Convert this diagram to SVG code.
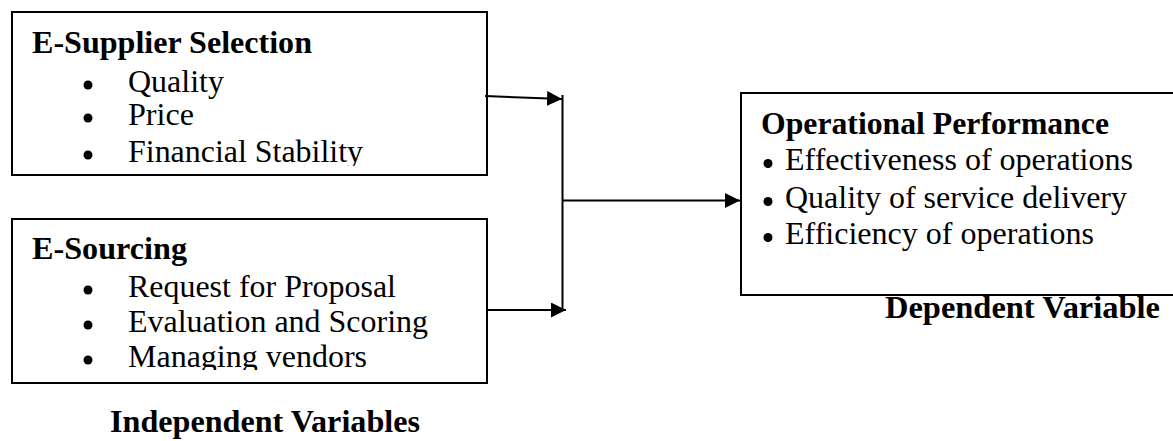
<svg xmlns="http://www.w3.org/2000/svg" width="1173" height="441" viewBox="0 0 1173 441">
<style>
  .box{fill:#fff;stroke:#000;stroke-width:2}
  .h{font-family:'Liberation Serif','Times New Roman',serif;font-weight:bold;font-size:31px;fill:#000}
  .t{font-family:'Liberation Serif','Times New Roman',serif;font-size:31px;fill:#000}
  .dot{fill:#000}
  .ln{stroke:#000;stroke-width:2;fill:none}
</style>
<defs>
  <marker id="ah" markerWidth="15" markerHeight="15" viewBox="0 0 15 15" refX="15" refY="7.5" orient="auto" markerUnits="userSpaceOnUse">
    <path d="M0,0 L15,7.5 L0,15 Z" fill="#000"/>
  </marker>
  <clipPath id="c1"><rect x="12" y="12" width="476" height="154"/></clipPath>
  <clipPath id="c2"><rect x="12" y="219" width="476" height="151"/></clipPath>
</defs>
<rect width="1173" height="441" fill="#fff"/>
<g id="supplier">
  <rect class="box" x="12" y="12" width="475" height="163"/>
  <circle class="dot" cx="88" cy="85" r="4.5"/>
  <circle class="dot" cx="88" cy="118" r="4.5"/>
  <circle class="dot" cx="88" cy="155" r="4.5"/>
  <g clip-path="url(#c1)">
    <text class="h" x="32" y="53" textLength="280" lengthAdjust="spacingAndGlyphs">E-Supplier Selection</text>
    <text class="t" x="128" y="92" textLength="96" lengthAdjust="spacingAndGlyphs">Quality</text>
    <text class="t" x="128" y="125" textLength="66" lengthAdjust="spacingAndGlyphs">Price</text>
    <text class="t" x="128" y="162" textLength="235" lengthAdjust="spacingAndGlyphs">Financial Stability</text>
  </g>
</g>
<g id="sourcing">
  <rect class="box" x="12" y="219" width="475" height="164"/>
  <circle class="dot" cx="88" cy="290" r="4.5"/>
  <circle class="dot" cx="88" cy="325" r="4.5"/>
  <circle class="dot" cx="88" cy="360" r="4.5"/>
  <g clip-path="url(#c2)">
    <text class="h" x="32" y="259" textLength="155" lengthAdjust="spacingAndGlyphs">E-Sourcing</text>
    <text class="t" x="128" y="297" textLength="268" lengthAdjust="spacingAndGlyphs">Request for Proposal</text>
    <text class="t" x="128" y="332" textLength="300" lengthAdjust="spacingAndGlyphs">Evaluation and Scoring</text>
    <text class="t" x="128" y="367" textLength="239" lengthAdjust="spacingAndGlyphs">Managing vendors</text>
  </g>
</g>
<g id="independent-label">
  <text class="h" x="110" y="432" textLength="310" lengthAdjust="spacingAndGlyphs">Independent Variables</text>
</g>
<g id="performance">
  <rect class="box" x="741" y="93" width="440" height="202"/>
  <text class="h" x="761" y="134" textLength="348" lengthAdjust="spacingAndGlyphs">Operational Performance</text>
  <circle class="dot" cx="768" cy="163.5" r="4.5"/>
  <text class="t" x="785" y="170" textLength="348" lengthAdjust="spacingAndGlyphs">Effectiveness of operations</text>
  <circle class="dot" cx="768" cy="201.5" r="4.5"/>
  <text class="t" x="785" y="208" textLength="342" lengthAdjust="spacingAndGlyphs">Quality of service delivery</text>
  <circle class="dot" cx="768" cy="237.5" r="4.5"/>
  <text class="t" x="785" y="244" textLength="309" lengthAdjust="spacingAndGlyphs">Efficiency of operations</text>
</g>
<g id="dependent-label">
  <text class="h" x="885" y="318" textLength="275" lengthAdjust="spacingAndGlyphs">Dependent Variable</text>
</g>
<g id="connectors">
  <line class="ln" x1="485" y1="96" x2="562" y2="99" marker-end="url(#ah)"/>
  <line class="ln" x1="487" y1="310" x2="566" y2="310" marker-end="url(#ah)"/>
  <line class="ln" x1="562.5" y1="95" x2="562.5" y2="311"/>
  <line class="ln" x1="562.5" y1="200.5" x2="740" y2="200.5" marker-end="url(#ah)"/>
</g>
</svg>
